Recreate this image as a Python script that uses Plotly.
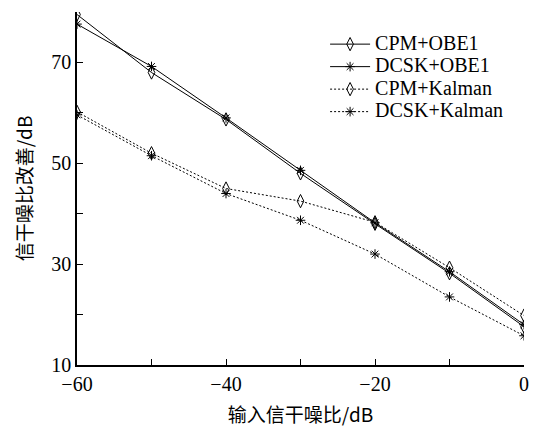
import plotly.graph_objects as go

# Input SINR (dB)
snr_in = [-60, -50, -40, -30, -20, -10, 0]

# SINR improvement (dB) for each scheme
cpm_obe1 = [79.5, 68.0, 58.7, 48.0, 38.0, 28.2, 17.6]
dcsk_obe1 = [77.6, 69.2, 59.0, 48.6, 38.2, 28.5, 18.0]
cpm_kalman = [60.2, 52.0, 45.0, 42.5, 38.3, 29.3, 19.8]
dcsk_kalman = [59.6, 51.5, 44.0, 38.7, 32.0, 23.5, 15.8]

x_tickvals = [-60, -50, -40, -30, -20, -10, 0]
x_ticktext = ["\u221260", "", "\u221240", "", "\u221220", "", "0"]
y_tickvals = [10, 20, 30, 40, 50, 60, 70]
y_ticktext = ["10", "", "30", "", "50", "", "70"]

serif = "Liberation Serif, Times New Roman, serif"
cjk = "Noto Sans CJK SC, sans-serif"

series = [
    ("CPM+OBE1", cpm_obe1, "solid", "diamond-tall-open", 9.5),
    ("DCSK+OBE1", dcsk_obe1, "solid", "asterisk-open", 8),
    ("CPM+Kalman", cpm_kalman, "2px,2px", "diamond-tall-open", 9.5),
    ("DCSK+Kalman", dcsk_kalman, "2px,2px", "asterisk-open", 8),
]

fig = go.Figure()
for name, vals, dash, sym, size in series:
    fig.add_trace(go.Scatter(
        x=snr_in, y=vals, mode="lines+markers",
        name='<span style="font-size:20px">' + name + "</span>",
        line=dict(color="black", width=1, dash=dash),
        marker=dict(symbol=sym, size=size, color="black",
                    line=dict(color="black", width=1)),
    ))

fig.update_layout(
    width=540, height=427,
    margin=dict(l=77, r=16, t=12, b=62),
    paper_bgcolor="white", plot_bgcolor="white",
    showlegend=True,
    legend=dict(x=0.555, y=0.955, xanchor="left", yanchor="top",
                bgcolor="rgba(0,0,0,0)", borderwidth=0,
                font=dict(family=serif, size=15, color="black"),
                tracegroupgap=0, itemwidth=40),
    font=dict(family=serif, color="black"),
)

fig.update_xaxes(
    range=[-60, 0], tickvals=x_tickvals, ticktext=x_ticktext,
    ticks="inside", ticklen=6, tickcolor="black", tickwidth=1,
    showline=True, linecolor="black", linewidth=1.6,
    showgrid=False, zeroline=False, automargin=False,
    tickfont=dict(family=serif, size=20, color="black"),
    title=dict(text="输入信干噪比/dB", font=dict(family=cjk, size=19, color="black"),
               standoff=26),
)
fig.update_yaxes(
    range=[10, 80], tickvals=y_tickvals, ticktext=y_ticktext,
    ticks="inside", ticklen=6, tickcolor="black", tickwidth=1,
    showline=True, linecolor="black", linewidth=1.6,
    showgrid=False, zeroline=False, automargin=False,
    tickfont=dict(family=serif, size=20, color="black"),
    title=dict(text="信干噪比改善/dB", font=dict(family=cjk, size=19, color="black"),
               standoff=14),
)

fig.write_html("out.html")
